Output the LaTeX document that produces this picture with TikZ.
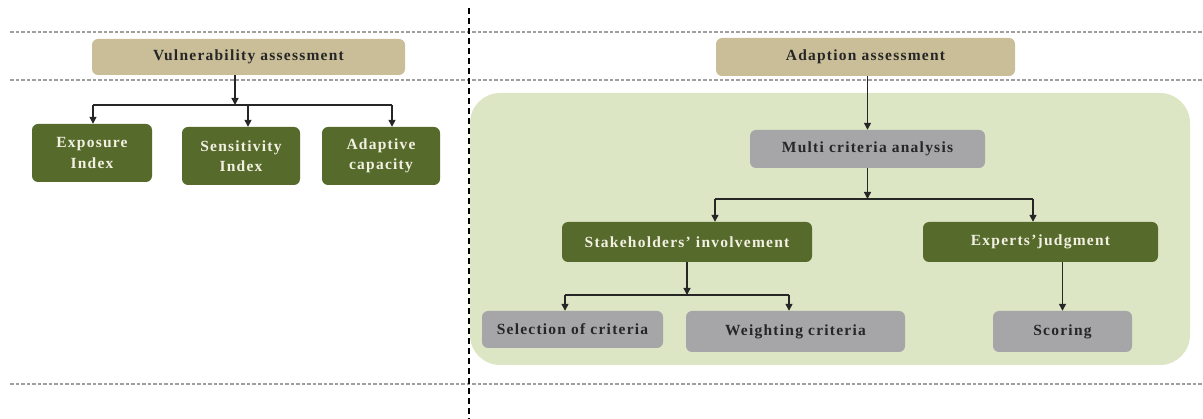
\documentclass[tikz,border=0pt]{standalone}
\usepackage{fontspec}
\setmainfont{Liberation Serif}[LetterSpace=8]
\usetikzlibrary{arrows.meta,calc}
\definecolor{tan}{HTML}{C9BE98}
\definecolor{olive}{HTML}{566B2B}
\definecolor{boxgray}{HTML}{A6A6A8}
\definecolor{bggreen}{HTML}{DCE6C5}
\definecolor{lightfg}{HTML}{F2F0E2}
\begin{document}
\begin{tikzpicture}[x=1pt,y=-1pt,
  base/.style={rounded corners=6pt,inner sep=0pt,align=center,font=\bfseries\fontsize{15.5}{20.5}\selectfont},
  head/.style={base,fill=tan,text=black!85},
  dark/.style={base,fill=olive,text=lightfg},
  grey/.style={base,fill=boxgray,text=black!85},
  arr/.style={-{Triangle[length=7pt,width=7pt]},line width=1.3pt,black!85},
  ln/.style={line width=1.3pt,black!85},
  hdash/.style={gray!75,line width=1.3pt,dash pattern=on 3.5pt off 2pt},
  vdash/.style={black,line width=1.6pt,dash pattern=on 6pt off 4pt}]
\useasboundingbox (0,0) rectangle (1203,419);
% background panel
\fill[bggreen,rounded corners=30pt] (470,93) rectangle (1190,365);
% dashed guides
\draw[hdash] (10,32) -- (1203,32);
\draw[hdash] (10,80) -- (1203,80);
\draw[hdash] (10,384) -- (1203,384);
\draw[vdash] (469,8) -- (469,419);
% nodes
\node[head,minimum width=313pt,minimum height=36pt] (vuln) at (248.5,57) {Vulnerability assessment};
\node[dark,minimum width=120pt,minimum height=58pt] (expo) at (92,153) {Exposure\\Index};
\node[dark,minimum width=118pt,minimum height=58pt] (sens) at (241,156) {Sensitivity\\Index};
\node[dark,minimum width=118pt,minimum height=58pt] (adap) at (381,156) {Adaptive\\capacity};
\node[head,minimum width=299pt,minimum height=38pt] (adas) at (865.5,57) {Adaption assessment};
\node[grey,minimum width=235pt,minimum height=38pt] (mca) at (867.5,149) {Multi criteria analysis};
\node[dark,minimum width=250pt,minimum height=40pt] (stak) at (687,242) {Stakeholders’ involvement};
\node[dark,minimum width=235pt,minimum height=40pt] (expt) at (1040.5,242) {Experts’judgment};
\node[grey,minimum width=181pt,minimum height=37pt] (sel) at (572.5,329.5) {Selection of criteria};
\node[grey,minimum width=219pt,minimum height=41pt] (wei) at (795.5,331.5) {Weighting criteria};
\node[grey,minimum width=139pt,minimum height=41pt] (sco) at (1062.5,331.5) {Scoring};
% junction coordinates
\coordinate (j1) at (235,105);
\coordinate (j2) at (869,199);
\coordinate (j3) at (687,295);
% vulnerability connectors
\draw[arr] (vuln.south -| j1) -- (j1);
\draw[ln] (93,105) -- (392,105);
\draw[arr] (93,105) -- (expo.north -| 93,0);
\draw[arr] (248,105) -- (sens.north -| 248,0);
\draw[arr] (392,105) -- (adap.north -| 392,0);
% adaption connectors
\draw[arr] (adas.south -| mca.north) -- (mca.north);
\draw[arr] (mca.south) -- (mca.south |- j2);
\draw[ln] (715,199) -- (1033,199);
\draw[arr] (715,199) -- (stak.north -| 715,0);
\draw[arr] (1033,199) -- (expt.north -| 1033,0);
\draw[arr] (stak.south) -- (j3);
\draw[ln] (565,295) -- (789,295);
\draw[arr] (565,295) -- (sel.north -| 565,0);
\draw[arr] (789,295) -- (wei.north -| 789,0);
\draw[arr] (expt.south -| sco.north) -- (sco.north);
\end{tikzpicture}
\end{document}
